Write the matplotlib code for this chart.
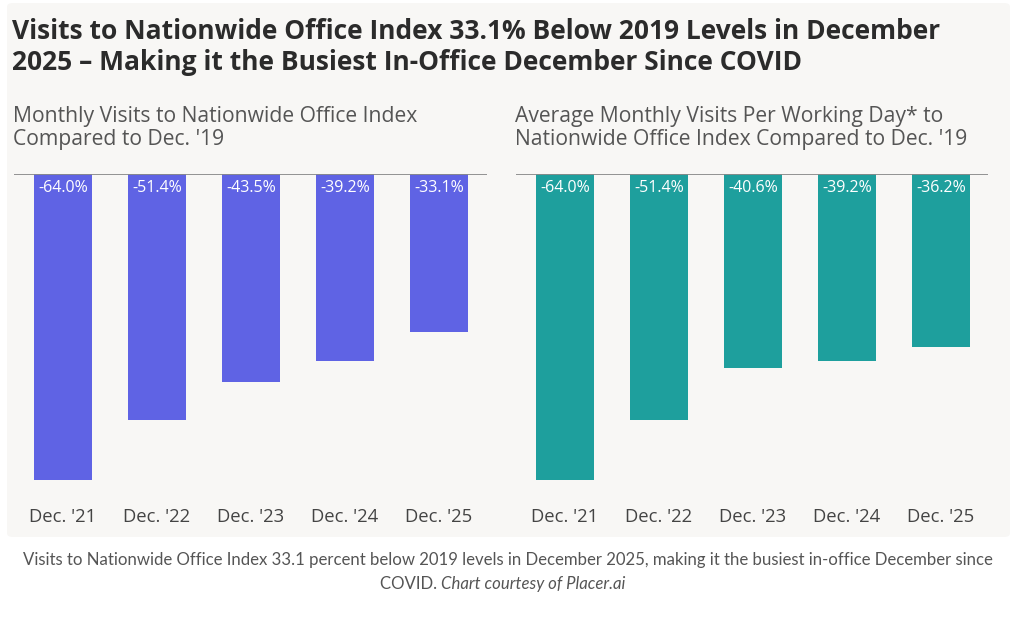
import matplotlib
matplotlib.use("Agg")
import matplotlib.pyplot as plt
from matplotlib.patches import FancyBboxPatch

categories = ["Dec. '21", "Dec. '22", "Dec. '23", "Dec. '24", "Dec. '25"]
monthly_visits = [-64.0, -51.4, -43.5, -39.2, -33.1]
per_working_day = [-64.0, -51.4, -40.6, -39.2, -36.2]

title = ("Visits to Nationwide Office Index 33.1% Below 2019 Levels in December\n"
         "2025 \u2013 Making it the Busiest In-Office December Since COVID")
sub_left = "Monthly Visits to Nationwide Office Index\nCompared to Dec. '19"
sub_right = "Average Monthly Visits Per Working Day* to\nNationwide Office Index Compared to Dec. '19"
caption1 = "Visits to Nationwide Office Index 33.1 percent below 2019 levels in December 2025, making it the busiest in-office December since"
caption2a = "COVID. "
caption2b = "Chart courtesy of Placer.ai"

W, H = 1024, 617
fig = plt.figure(figsize=(W / 100, H / 100), dpi=100)
fig.patch.set_facecolor("white")

panel = FancyBboxPatch((7 / W, (H - 537) / H), (1010 - 7) / W, (537 - 3) / H,
                       boxstyle="round,pad=0,rounding_size=0.006",
                       transform=fig.transFigure, facecolor="#f8f7f5",
                       edgecolor="none", zorder=-10)
fig.patches.append(panel)

def fx(x):
    return x / W

def fy(y):
    return 1 - y / H

fig.text(fx(12), fy(18), title, fontsize=19, fontweight="bold", family="Open Sans",
         color="#2b2b2b", va="top", ha="left", linespacing=1.2)
fig.text(fx(13), fy(106), sub_left, fontsize=15.2, family="Open Sans", color="#555555",
         va="top", ha="left", linespacing=1.1)
fig.text(fx(515), fy(106), sub_right, fontsize=15.2, family="Open Sans", color="#555555",
         va="top", ha="left", linespacing=1.1)

px_per_unit = (480 - 174) / 64.0
ax_bottom_px = 490
ymin = -(ax_bottom_px - 174) / px_per_unit

def make_axes(left_px, right_px, values, color):
    ax = fig.add_axes([fx(left_px), fy(ax_bottom_px), (right_px - left_px) / W,
                       (ax_bottom_px - 174) / H])
    ax.set_facecolor("none")
    x = list(range(len(categories)))
    ax.bar(x, values, width=0.617, color=color, zorder=2)
    step = 94.0
    c0 = left_px + 49
    ax.set_xlim((left_px - c0) / step, (right_px - c0) / step)
    ax.set_ylim(ymin, 0)
    ax.axhline(0, color="#8a8a8a", linewidth=1.3, zorder=3)
    for s in ax.spines.values():
        s.set_visible(False)
    ax.set_yticks([])
    ax.set_xticks(x)
    ax.set_xticklabels(categories, fontsize=13.3, family="Open Sans", color="#444444")
    ax.tick_params(axis="x", length=0, pad=13)
    for xi, v in zip(x, values):
        ax.text(xi, -1.3, f"{v:.1f}%", ha="center", va="top", color="white",
                fontsize=11.5, family="Open Sans", zorder=4)
    return ax

make_axes(14, 487, monthly_visits, "#5f63e4")
make_axes(516, 988, per_working_day, "#1e9f9d")

fig.text(fx(508), fy(560), caption1, fontsize=12.1, family="Lato", color="#555555",
         ha="center", va="center")
t1 = fig.text(fx(380), fy(584), caption2a, fontsize=12.1, family="Lato", color="#555555",
              ha="left", va="center")
fig.canvas.draw()
bb = t1.get_window_extent()
fig.text(bb.x1 / W, fy(584), caption2b, fontsize=12.1, family="Lato", style="italic",
         color="#555555", ha="left", va="center")

fig.savefig("out.png", dpi=100, facecolor="white")
